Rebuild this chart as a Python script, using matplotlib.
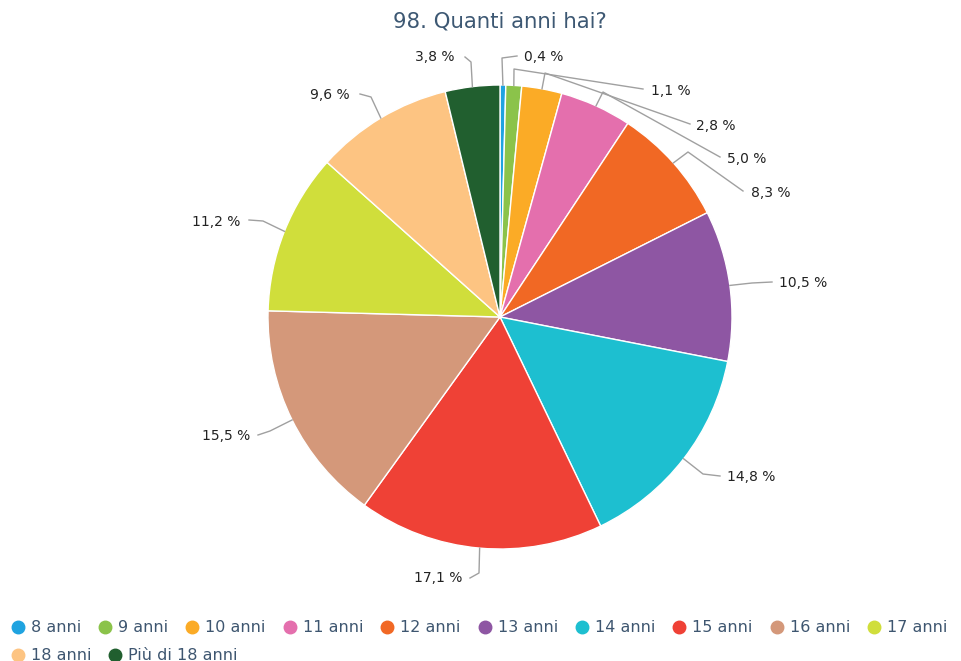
import numpy as np
import matplotlib
matplotlib.use("Agg")
import matplotlib.pyplot as plt

title = "98. Quanti anni hai?"
categories = ["8 anni", "9 anni", "10 anni", "11 anni", "12 anni", "13 anni",
              "14 anni", "15 anni", "16 anni", "17 anni", "18 anni", "Più di 18 anni"]
values = [0.4, 1.1, 2.8, 5.0, 8.3, 10.5, 14.8, 17.1, 15.5, 11.2, 9.6, 3.8]
labels = ["0,4 %", "1,1 %", "2,8 %", "5,0 %", "8,3 %", "10,5 %",
          "14,8 %", "17,1 %", "15,5 %", "11,2 %", "9,6 %", "3,8 %"]
colors = ["#1fa3e0", "#8bc34a", "#fbab26", "#e46fad", "#f16824", "#8e56a3",
          "#1dbfd0", "#ef4136", "#d4987a", "#d0de3b", "#fdc482", "#215f2f"]

# ---- layout (pixel coords, y from top) ----
W, H = 962, 661
CX, CY, R = 500, 317, 232
# connector mid points (A, B) and text anchor per slice
label_layout = [
    ((502, 58), (517, 56), (524, 57), "left"),
    ((514, 69), (643, 89), (651, 91), "left"),
    ((545, 73), (690, 124), (696, 126), "left"),
    ((603, 92), (720, 157), (727, 159), "left"),
    ((688, 152), (743, 191), (751, 193), "left"),
    ((752, 283), (772, 282), (779, 283), "left"),
    ((703, 474), (720, 476), (727, 477), "left"),
    ((479, 573), (470, 578), (462, 578), "right"),
    ((270, 431), (258, 435), (250, 436), "right"),
    ((263, 221), (249, 220), (240, 222), "right"),
    ((371, 97), (360, 94), (350, 95), "right"),
    ((471, 62), (465, 57), (455, 57), "right"),
]

def Y(y):
    return H - y

fig = plt.figure(figsize=(W / 100, H / 100), dpi=100)
ax = fig.add_axes([0, 0, 1, 1])

ax.pie(values, colors=colors, startangle=90, counterclock=False,
       center=(CX, Y(CY)), radius=R, frame=True,
       wedgeprops=dict(edgecolor="white", linewidth=1.0))
ax.set_xlim(0, W)
ax.set_ylim(0, H)
ax.set_aspect("equal")
ax.axis("off")

total = sum(values)
cum = np.cumsum([0] + values[:-1])
for i, v in enumerate(values):
    mid = (cum[i] + v / 2) / total * 360.0
    th = np.deg2rad(mid)
    ex = CX + R * np.sin(th)
    ey = CY - R * np.cos(th)
    (ax_, ay_), (bx, by), (tx, ty), ha = label_layout[i]
    ax.plot([ex, ax_, bx], [Y(ey), Y(ay_), Y(by)], color="#a0a0a0", lw=1.0,
            solid_joinstyle="round", zorder=1)
    ax.text(tx, Y(ty), labels[i], ha=ha, va="center", fontsize=10,
            color="#222222")

fig.text(CX / W, 1 - 22 / H, title, ha="center", va="center",
         fontsize=15.3, color="#3d5873")

# ---- flow legend ----
fig.canvas.draw()
renderer = fig.canvas.get_renderer()
x = 18
row_y = [627, 655]
row = 0
for c, name in zip(colors, categories):
    t = ax.text(0, 0, name, fontsize=11.5, color="#3e5670", va="center", ha="left")
    w = t.get_window_extent(renderer).width
    if x + 13 + w > W - 2:
        row += 1
        x = 18
    ax.plot([x], [Y(row_y[row])], "o", ms=9, color=c, mec=c, clip_on=False)
    t.set_position((x + 13, Y(row_y[row])))
    x = x + 13 + w + 24

fig.savefig("out.png", dpi=100, facecolor="white")
